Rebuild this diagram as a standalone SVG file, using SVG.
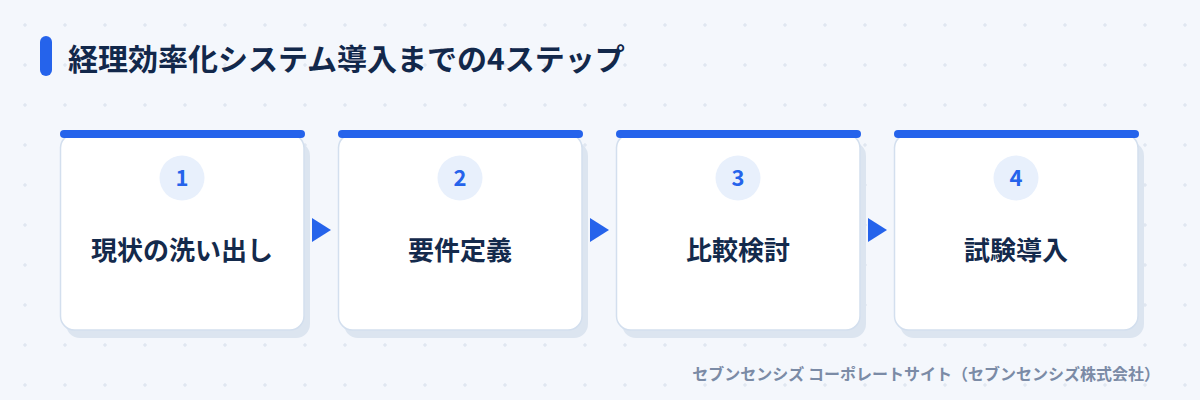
<svg xmlns="http://www.w3.org/2000/svg" width="1200" height="400" viewBox="0 0 1200 400">
  <defs>
    <pattern id="grid" patternUnits="userSpaceOnUse" x="5" y="5" width="40" height="40">
      <path d="M18 20h4M20 18v4" stroke="#d9e1ed" stroke-width="1"/>
    </pattern>
    <style>
      text { font-family: "Noto Sans CJK JP", "Noto Sans", sans-serif; }
      .heading { font-size: 30px; font-weight: 700; fill: #12284b; }
      .shadow { fill: #dce5f0; }
      .card { fill: #ffffff; stroke: #d3dfee; stroke-width: 1.5; }
      .topbar { fill: #2563eb; }
      .numbg { fill: #e8f0fc; }
      .num { font-size: 22px; font-weight: 700; fill: #2563eb; text-anchor: middle; }
      .title { font-size: 26px; font-weight: 700; fill: #142a4c; text-anchor: middle; }
      .arrow { fill: #2563eb; }
      .footer { font-size: 16px; font-weight: 700; fill: #7b8ba6; text-anchor: end; }
    </style>
  </defs>
  <rect width="1200" height="400" fill="#f4f7fc"/>
  <rect width="1200" height="400" fill="url(#grid)"/>

  <g id="heading">
    <rect x="40" y="36" width="12" height="40" rx="6" fill="#2563eb"/>
    <text class="heading" x="68" y="70">経理効率化システム導入までの4ステップ</text>
  </g>

  <g id="connectors">
    <polygon class="arrow" points="312,218 331,230 312,242"/>
    <polygon class="arrow" points="590,218 609,230 590,242"/>
    <polygon class="arrow" points="868,218 887,230 868,242"/>
  </g>

  <g id="step1">
    <rect class="shadow" x="66" y="142" width="244" height="196" rx="14"/>
    <rect class="card" x="60.5" y="134" width="243.5" height="196" rx="14"/>
    <rect class="topbar" x="60" y="130" width="245" height="8" rx="4"/>
    <circle class="numbg" cx="182" cy="178" r="22.5"/>
    <text class="num" x="182" y="186">1</text>
    <text class="title" x="182" y="260">現状の洗い出し</text>
  </g>

  <g id="step2">
    <rect class="shadow" x="344" y="142" width="244" height="196" rx="14"/>
    <rect class="card" x="338.5" y="134" width="243.5" height="196" rx="14"/>
    <rect class="topbar" x="338" y="130" width="245" height="8" rx="4"/>
    <circle class="numbg" cx="460" cy="178" r="22.5"/>
    <text class="num" x="460" y="186">2</text>
    <text class="title" x="460" y="260">要件定義</text>
  </g>

  <g id="step3">
    <rect class="shadow" x="622" y="142" width="244" height="196" rx="14"/>
    <rect class="card" x="616.5" y="134" width="243.5" height="196" rx="14"/>
    <rect class="topbar" x="616" y="130" width="245" height="8" rx="4"/>
    <circle class="numbg" cx="738" cy="178" r="22.5"/>
    <text class="num" x="738" y="186">3</text>
    <text class="title" x="738" y="260">比較検討</text>
  </g>

  <g id="step4">
    <rect class="shadow" x="900" y="142" width="244" height="196" rx="14"/>
    <rect class="card" x="894.5" y="134" width="243.5" height="196" rx="14"/>
    <rect class="topbar" x="894" y="130" width="245" height="8" rx="4"/>
    <circle class="numbg" cx="1016" cy="178" r="22.5"/>
    <text class="num" x="1016" y="186">4</text>
    <text class="title" x="1016" y="260">試験導入</text>
  </g>

  <g id="footer">
    <text class="footer" x="1160" y="380">セブンセンシズ コーポレートサイト（セブンセンシズ株式会社）</text>
  </g>
</svg>
